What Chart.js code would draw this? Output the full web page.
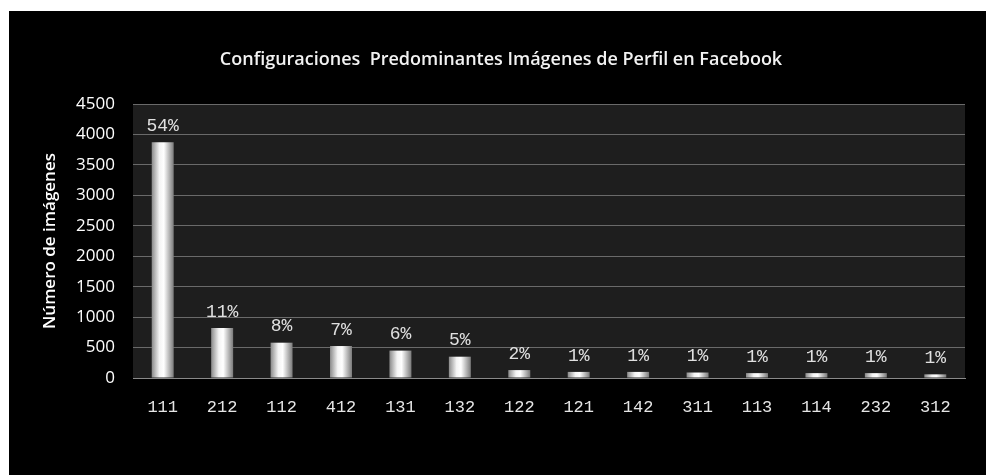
<!DOCTYPE html>
<html lang="es">
<head>
  <meta charset="UTF-8">
  <title>Configuraciones Predominantes</title>
  <script src="https://cdn.jsdelivr.net/npm/chart.js"></script>
  <style>
    body { margin: 0; padding: 0; background: #fff; }
    #wrap { width: 986px; height: 475px; }
  </style>
</head>
<body>
  <div id="wrap"><canvas id="grafico"></canvas></div>
  <script>
    // Datos
    const categorias = ['111', '212', '112', '412', '131', '132', '122', '121', '142', '311', '113', '114', '232', '312'];
    const imagenes = [3870, 820, 580, 525, 450, 350, 130, 100, 100, 90, 80, 80, 80, 60];
    const porcentajes = ['54%', '11%', '8%', '7%', '6%', '5%', '2%', '1%', '1%', '1%', '1%', '1%', '1%', '1%'];
    const titulo = 'Configuraciones  Predominantes Imágenes de Perfil en Facebook';

    const fuente = "'Open Sans', 'DejaVu Sans', sans-serif";
    const mono = "'Liberation Mono', 'DejaVu Sans Mono', monospace";

    // Fondo negro con borde blanco, área del gráfico gris oscuro, título
    const fondo = {
      id: 'fondo',
      beforeDraw(chart) {
        const c = chart.ctx, a = chart.chartArea;
        c.save();
        c.fillStyle = '#ffffff';
        c.fillRect(0, 0, chart.width, chart.height);
        c.fillStyle = '#000000';
        c.fillRect(9, 11, chart.width - 9, chart.height - 11);
        c.fillStyle = '#1e1e1e';
        c.fillRect(a.left, a.top, a.right - a.left, a.bottom - a.top);
        c.fillStyle = '#f2f2f2';
        c.font = '600 18px ' + fuente;
        c.textAlign = 'center';
        c.textBaseline = 'middle';
        c.fillText(titulo, 501, 60);
        c.restore();
      }
    };

    // Porcentajes encima de cada barra
    const etiquetas = {
      id: 'etiquetas',
      afterDatasetsDraw(chart) {
        const c = chart.ctx;
        const meta = chart.getDatasetMeta(0);
        c.save();
        c.fillStyle = '#e0e0e0';
        c.font = '18px ' + mono;
        c.textAlign = 'center';
        c.textBaseline = 'bottom';
        meta.data.forEach((barra, i) => {
          c.fillText(porcentajes[i], barra.x, barra.y - 7);
        });
        c.restore();
      }
    };

    const anchoBarra = 0.37;

    new Chart(document.getElementById('grafico'), {
      type: 'bar',
      data: {
        labels: categorias,
        datasets: [{
          data: imagenes,
          backgroundColor(ctx) {
            const chart = ctx.chart;
            const x = chart.scales && chart.scales.x;
            if (!x || ctx.dataIndex === undefined || !isFinite(x.left)) return '#d8d8d8';
            const centro = x.getPixelForValue(ctx.dataIndex);
            const w = (x.width / categorias.length) * anchoBarra;
            const g = chart.ctx.createLinearGradient(centro - w / 2, 0, centro + w / 2, 0);
            g.addColorStop(0, '#8a8a8a');
            g.addColorStop(0.35, '#f4f4f4');
            g.addColorStop(0.55, '#ffffff');
            g.addColorStop(1, '#7a7a7a');
            return g;
          },
          borderWidth: 0,
          categoryPercentage: 1,
          barPercentage: anchoBarra
        }]
      },
      options: {
        responsive: true,
        maintainAspectRatio: false,
        animation: false,
        layout: { padding: { left: 40, top: 104, right: 21, bottom: 57 } },
        plugins: {
          legend: { display: false },
          title: { display: false },
          tooltip: { enabled: false }
        },
        scales: {
          x: {
            grid: { display: false, drawTicks: false },
            border: { color: '#8a8a8a', width: 1 },
            ticks: { color: '#e6e6e6', font: { family: mono, size: 17 }, padding: 19 },
            afterFit(s) { s.height = 40; }
          },
          y: {
            min: 0,
            max: 4500,
            ticks: {
              stepSize: 500,
              color: '#ffffff',
              font: { family: fuente, size: 17 },
              padding: 18,
              callback: (v) => String(v)
            },
            grid: { color: '#6a6a6a', lineWidth: 1, drawTicks: false },
            border: { display: false },
            title: {
              display: true,
              text: 'Número de imágenes',
              color: '#ffffff',
              font: { family: fuente, size: 17, weight: '600' },
              padding: { top: 0, bottom: 0 }
            },
            afterFit(s) { s.width = 93; }
          }
        }
      },
      plugins: [fondo, etiquetas]
    });
  </script>
</body>
</html>
